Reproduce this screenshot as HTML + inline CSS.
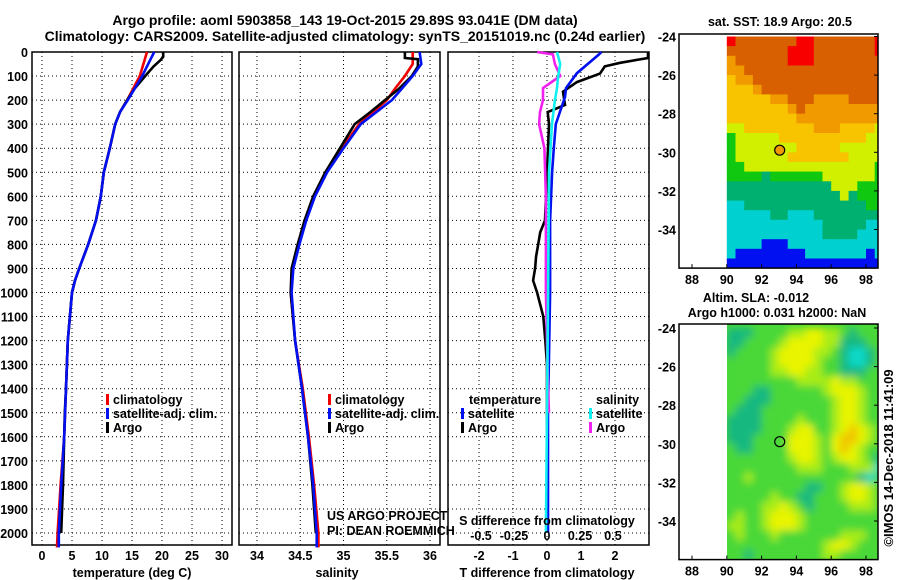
<!DOCTYPE html>
<html><head><meta charset="utf-8">
<style>
html,body{margin:0;padding:0;background:#fff;}
svg{display:block;font-family:"Liberation Sans",sans-serif;}
.b{font-weight:bold;font-size:12.5px;}
</style></head>
<body>
<svg id="chart" width="900" height="580" viewBox="0 0 900 580" xmlns="http://www.w3.org/2000/svg">
<defs>
<filter id="blur" x="-5%" y="-5%" width="110%" height="110%"><feGaussianBlur stdDeviation="4"/></filter>
<clipPath id="slaclip"><rect x="727" y="324" width="151" height="235"/></clipPath>
</defs>
<text class="b" x="345" y="25" text-anchor="middle" style="font-size:14px">Argo profile: aoml 5903858_143 19-Oct-2015 29.89S 93.041E (DM data)</text>
<text class="b" x="345" y="41" text-anchor="middle" style="font-size:14px">Climatology: CARS2009. Satellite-adjusted climatology: synTS_20151019.nc (0.24d earlier)</text>
<g id="layer"></g>
</svg>
<script>
// ---- data ----
const depthTicks=[0,100,200,300,400,500,600,700,800,900,1000,1100,1200,1300,1400,1500,1600,1700,1800,1900,2000];
const tempTicks=[0,5,10,15,20,25,30];
const salTicks=[34,34.5,35,35.5,36];
const tdTicks=[-2,-1,0,1,2];
const sdTicks=[-0.5,-0.25,0,0.25,0.5];
const tArgoD=[0,20,35,60,100,150,200,250,300,400,500,600,700,800,900,950,1000,1200,1400,1500,1800,2000];
const tArgo=[20.2,20.2,19.7,18.6,17.2,15.5,14.2,13,12.2,11.3,10.3,9.8,9,7.7,6.2,5.5,5,4.3,4,3.8,3.5,3.2];
const tClimD=[0,100,200,250,300,400,500,600,700,800,900,950,1000,1200,1400,1600,1800,2000,2060];
const tClim=[17.5,16.3,14.2,13,12.2,11.3,10.3,9.8,9,7.7,6.2,5.5,5,4.3,4,3.7,3.1,2.6,2.5];
const tSat=[18.7,16.7,14.3,13,12.2,11.3,10.3,9.8,9,7.7,6.2,5.5,5,4.3,4,3.7,3.2,2.8,2.8];
const sArgoD=[0,25,30,60,100,150,200,250,300,400,500,600,700,800,900,1000,1200,1400,1600,1800,2000];
const sArgo=[35.71,35.71,35.86,35.86,35.79,35.65,35.48,35.31,35.13,34.96,34.79,34.65,34.55,34.47,34.40,34.39,34.44,34.52,34.59,34.64,34.68];
const sClimD=[0,50,100,150,200,300,400,500,600,700,800,900,1000,1200,1400,1600,1800,2000,2060];
const sClim=[35.8,35.8,35.71,35.6,35.5,35.18,34.98,34.8,34.66,34.56,34.48,34.42,34.39,34.44,34.53,34.6,34.66,34.71,34.71];
const sSat=[35.88,35.9,35.8,35.68,35.56,35.2,35.0,34.81,34.67,34.57,34.49,34.42,34.40,34.44,34.52,34.59,34.65,34.69,34.69];
const dTArgoD=[0,25,45,60,90,125,165,220,250,300,400,500,700,750,800,850,900,950,1000,1050,1100,1200,1300,2000];
const dTArgo=[2.97,2.97,2.15,1.7,1.56,0.88,0.47,0.53,0.02,0.06,0.03,0,-0.06,-0.2,-0.26,-0.32,-0.35,-0.41,-0.29,-0.2,-0.11,-0.05,0,0];
const dTSatD=[0,10,88,150,187,300,400,500,700,1000,1500,2000];
const dTSat=[1.6,1.53,0.88,0.56,0.53,0.26,0.2,0.15,0.09,0.09,0.03,0.03];
const dSSatD=[0,50,100,150,200,300,500,1000,1500,2000];
const dSSat=[0.076,0.1,0.085,0.076,0.06,0.038,0.015,0.008,0,-0.008];
const dSArgoD=[0,10,50,100,150,200,250,300,400,600,1000,1400,1500];
const dSArgo=[-0.076,0.045,0.06,0.1,-0.03,-0.03,-0.053,-0.06,-0.02,-0.008,-0.008,0.008,0.015];
const sstRows=["rooooooorrooooooor","ooooooorrrooooooor","Ooooooorrroooooooo","OOoooooooooooooooo","yOOooooooooooooooo","yyyOoooooooooooooo","yyyyyOOoooOOOOoooo","yyyyyyyOoOOOOOOOOO","yyyyyyyyOOOOOOOOOO","YYyyyyyyyyOOOyyyyY","gYYYYYyyyyyyyyyyYY","gYYYYYYYyyyyyYYYYY","gYYYYYYyyyyyyyYYYY","ggYYYYYYYYYYYYYYYg","ggggGggggggYYYYYYg","GGGGGGGGGGGGYYYggg","GGGGGGGGGGGGGYGggg","ccGGGGGGGGGGGGGGgg","cccccGGcccGGGGGGGG","cccccccccccGGGGGcc","cccccccccccGGGGccc","ccccbbbccccccccccc","cbbbbbbbbcccccccbc","bbbbbbbbbbbbbbbbbb"];
const slaRows=["tttggggllyyllgtggg","ttgggglyyyylltttgg","tgggglyyyyllgtcctg","ggggglyyyylggtcctg","gggggllyyllggtttgg","ggggggggllllyllggg","gggttgggggglyyylgg","ggtttggggggglyylgg","gtttgggggggglyylgg","ttttgggglggglyylgg","ttttggglyygglyoylg","tttggggyyylgyooylg","gttggggyyylgyoylgg","ggggggglyylglyylgt","gggggggglllggglllc","gglggggggggggggtcg","gggggggggttgglyylg","ggggglggttggglyylg","ggggllylgtgggglllg","glgglyyylggggggggg","llgglyyylggggggggg","glggglggggggglllgg","ggggggggggglyylggg","ggtggggggggllggggg"];
const sstCols={r:"#f80000",o:"#d86000",O:"#f09a00",y:"#f8c400",Y:"#d0f000",g:"#10c810",G:"#00b070",c:"#00d0d0",b:"#0010f0"};
const slaCols={t:"#18b880",g:"#48d838",l:"#a8ec18",y:"#e8f400",o:"#f0c400",c:"#10d8c8"};

const NS="http://www.w3.org/2000/svg";
const layer=document.getElementById('layer');
function mk(tag,attrs,parent){const e=document.createElementNS(NS,tag);for(const k in attrs)e.setAttribute(k,attrs[k]);(parent||layer).appendChild(e);return e;}
function txt(s,x,y,anchor,cls,parent){const t=mk('text',{x:x,y:y,'text-anchor':anchor||'middle','class':cls||'b'},parent);t.textContent=s;return t;}

const PT=52, PB=545;
const yD=d=>52+d*0.2405;
function panel(name){
  const g=mk('g',{});
  
  
  return g;
}
function gridAndFrame(g,x0,x1,xs,xf){
  depthTicks.forEach(d=>{const l=mk('line',{x1:x0,x2:x1,y1:yD(d),y2:yD(d),stroke:'#000','stroke-width':1,'stroke-dasharray':'1,3'},g);});
  xs.forEach(v=>{const l=mk('line',{x1:xf(v),x2:xf(v),y1:PT,y2:PB,stroke:'#000','stroke-width':1,'stroke-dasharray':'1,3'},g);});
  const r=mk('rect',{x:x0,y:PT,width:x1-x0,height:PB-PT,fill:'none',stroke:'#000','stroke-width':1.5},g);
  
}
function series(g,name,ds,vs,xf,color){
  const pts=ds.map((d,i)=>xf(vs[i]).toFixed(1)+','+yD(d).toFixed(1)).join(' ');
  const p=mk('polyline',{points:pts,fill:'none',stroke:color,'stroke-width':2.6,'stroke-linejoin':'miter'},g);
  
  
}
function legItem(g,name,x,y,color,label){
  const r=mk('rect',{x:x,y:y-10,width:3,height:11,fill:color},g);
  
  const t=txt(label,x+7,y,'start','b',g);
  
}

depthTicks.forEach(d=>{const t=txt(String(d),28,yD(d)+5,'end');});

// Panel 1 temperature
const xT=v=>42+6*v;
const p1=panel('temperature-panel');
gridAndFrame(p1,32,232,tempTicks,xT);
series(p1,'temp-climatology-line',tClimD,tClim,xT,'#f00000');
series(p1,'temp-argo-line',tArgoD,tArgo,xT,'#000');
series(p1,'temp-satellite-line',tClimD,tSat,xT,'#0010f0');
tempTicks.forEach(v=>{const t=txt(String(v),xT(v),560);});
{const t=txt('temperature (deg C)',132,577);}
legItem(p1,'legend-climatology',106,404,'#f00000','climatology');
legItem(p1,'legend-satellite',106,418,'#0010f0','satellite-adj. clim.');
legItem(p1,'legend-argo',106,432,'#000','Argo');

// Panel 2 salinity
const xS=v=>257+86.5*(v-34);
const p2=panel('salinity-panel');
gridAndFrame(p2,239,440,salTicks,xS);
series(p2,'sal-climatology-line',sClimD,sClim,xS,'#f00000');
series(p2,'sal-argo-line',sArgoD,sArgo,xS,'#000');
series(p2,'sal-satellite-line',sClimD,sSat,xS,'#0010f0');
salTicks.forEach(v=>{const t=txt(String(v),xS(v),560);});
{const t=txt('salinity',337,577);}
legItem(p2,'legend-sal-climatology',328,404,'#f00000','climatology');
legItem(p2,'legend-sal-satellite',328,418,'#0010f0','satellite-adj. clim.');
legItem(p2,'legend-sal-argo',328,432,'#000','Argo');
{const t=txt('US ARGO PROJECT',327,520,'start','',p2);t.setAttribute('style','font-size:12.5px');
 const t2=txt('PI: DEAN ROEMMICH',327,535,'start','',p2);t2.setAttribute('style','font-size:12.5px');}

// Panel 3 differences
const xTd=v=>547+34*v;
const xSd=v=>547+132*v;
const p3=panel('difference-panel');
gridAndFrame(p3,448,649,tdTicks,xTd);
series(p3,'tdiff-argo-line',dTArgoD,dTArgo,xTd,'#000');
series(p3,'tdiff-satellite-line',dTSatD,dTSat,xTd,'#0010f0');
series(p3,'sdiff-argo-line',dSArgoD,dSArgo,xSd,'#f020f0');
series(p3,'sdiff-satellite-line',dSSatD,dSSat,xSd,'#10f0f0');
tdTicks.forEach(v=>{const t=txt(String(v),xTd(v),560);});
sdTicks.forEach(v=>{const t=txt(String(v),xSd(v),540);});
{const t=txt('T difference from climatology',547,577);}
{const t=txt('S difference from climatology',547,525);}
{const t=txt('temperature',469,404,'start','b',p3);}
{const t=txt('salinity',596,404,'start','b',p3);}
legItem(p3,'legend-t-satellite',461,418,'#0010f0','satellite');
legItem(p3,'legend-t-argo',461,432,'#000','Argo');
legItem(p3,'legend-s-satellite',589,418,'#10f0f0','satellite');
legItem(p3,'legend-s-argo',589,432,'#f020f0','Argo');

// Maps
const lonTicks=[88,90,92,94,96,98];
const latTicks=[-24,-26,-28,-30,-32,-34];
function map(name,topY,lat24Y,lat34Y,rows,cols,smooth){
  const g=mk('g',{});
  
  const x0=679,x1=878;
  const lx=v=>692+(v-88)*17.4;
  const ppd=(lat34Y-lat24Y)/10;
  const ly=v=>lat24Y+(-24-v)*ppd;
  const bottomY=ly(-36);
  let cg=g;
  if(smooth){
    const clip=mk('g',{'clip-path':'url(#slaclip)'},g);
    
    const bg=mk('rect',{x:lx(90),y:topY,width:x1-lx(90),height:bottomY-topY,fill:cols.g},clip);
    
    cg=mk('g',{filter:'url(#blur)'},clip);
  }
  rows.forEach((row,ri)=>{
    for(let ci=0;ci<row.length;ci++){
      const lon=90+ci*0.5, lat=-24-ri*0.5;
      const xa=lx(lon), xb=smooth?lx(lon+0.5):Math.min(lx(lon+0.5),x1);
      const ya=smooth?ly(lat):Math.max(ly(lat),topY), yb=smooth?ly(lat-0.5):Math.min(ly(lat-0.5),bottomY);
      if(xb<=xa) continue;
      const r=mk('rect',{x:xa.toFixed(1),y:ya.toFixed(1),width:(xb-xa+0.4).toFixed(1),height:(yb-ya+0.4).toFixed(1),fill:cols[row[ci]]||cols.g},cg);
      
    }
  });
  const f=mk('rect',{x:x0,y:topY,width:x1-x0,height:bottomY-topY,fill:'none',stroke:'#000','stroke-width':1.5},g);
  
  lonTicks.forEach(v=>{const t=txt(String(v),lx(v),bottomY+16);
    const k=mk('line',{x1:lx(v),x2:lx(v),y1:bottomY,y2:bottomY-4,stroke:'#000'},g);});
  latTicks.forEach(v=>{const t=txt(String(v),676,ly(v)+5,'end');
    const k=mk('line',{x1:x1,x2:x1-4,y1:ly(v),y2:ly(v),stroke:'#000'},g);});
  const c=mk('circle',{cx:lx(93.04),cy:ly(-29.89),r:5,fill:smooth?'none':'#f09a00',stroke:'#000','stroke-width':1.2},g);
  
}
map('sst-map',34,36.5,229.5,sstRows,sstCols,false);
map('sla-map',324,328,521,slaRows,slaCols,true);
{const t=txt('sat. SST: 18.9 Argo: 20.5',780,26);}
{const t=txt('Altim. SLA: -0.012',756,302);}
{const t=txt('Argo h1000: 0.031 h2000: NaN',777,317);}
{const t=txt('©IMOS 14-Dec-2018 11:41:09',0,0,'middle','');t.setAttribute('style','font-size:13px');t.setAttribute('transform','translate(893,458) rotate(-90)');}
</script>
</body></html>
